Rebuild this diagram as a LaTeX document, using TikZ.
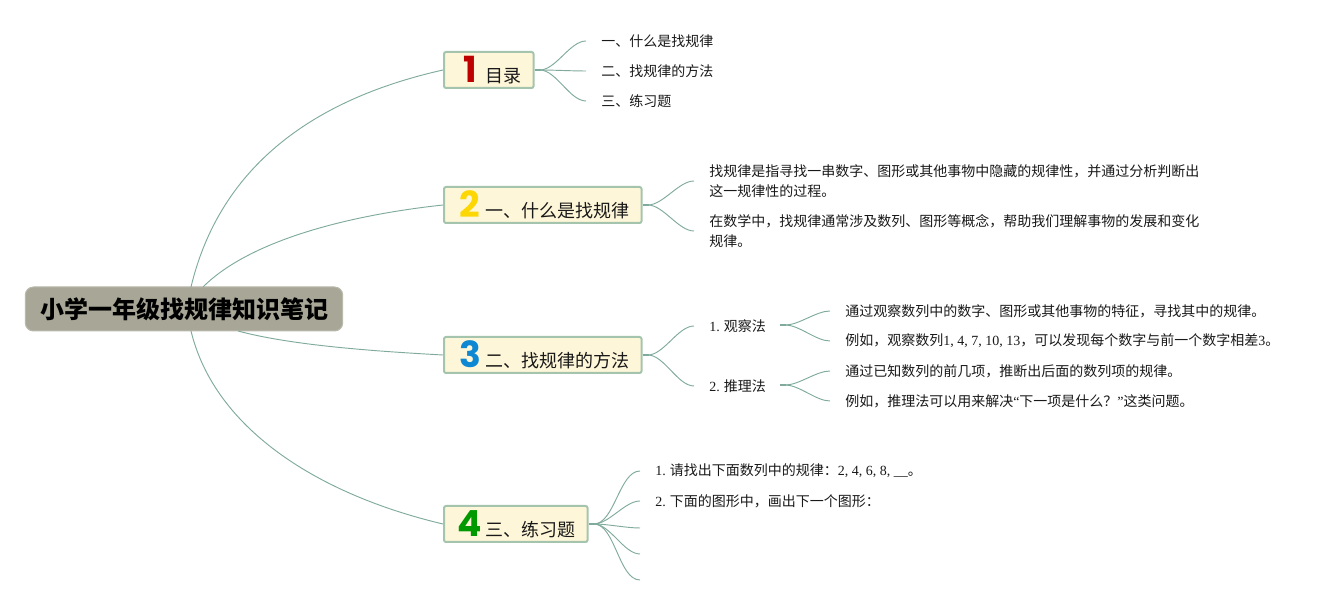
\documentclass[tikz,border=0pt]{standalone}
\usepackage{fontspec}
\usepackage{xcolor}
\setmainfont{Liberation Serif}
\newfontfamily\cjk{Noto Sans CJK SC}
\newfontfamily\numfont{Poppins}
\definecolor{linegreen}{HTML}{7FAA9C}
\definecolor{boxline}{HTML}{A5C4AE}
\definecolor{boxfill}{HTML}{FEF6D8}
\definecolor{rootfill}{HTML}{A8A797}
\newcommand{\lat}[1]{{\rmfamily #1}}
\newcommand{\numb}[2]{\makebox[20.25pt][c]{\numfont\fontsize{27}{27}\bfseries\color{#1}#2}\hspace{1.1pt}}
\tikzset{
	root box/.style={draw=rootfill!80!white,fill=rootfill,rounded corners=6pt,line width=.75pt,minimum width=238pt,minimum height=33pt,inner sep=0pt,font=\cjk\fontsize{18}{18}\selectfont\bfseries},
	branch box/.style={draw=boxline,fill=boxfill,rounded corners=1.5pt,line width=1.5pt,anchor=west,minimum height=27pt,inner xsep=9.4pt,inner ysep=0pt,font=\cjk\fontsize{13.5}{13.5}\selectfont,text=black!90},
	leaf/.style={anchor=west,inner xsep=11.25pt,inner ysep=0pt,align=left,font=\cjk\fontsize{10.5}{15}\selectfont,text=black!90},
	main link/.style={draw=linegreen,line width=.7pt},
	stem/.style={draw=linegreen,line width=1.5pt},
	twig/.style={draw=linegreen,line width=.7pt,out=0,in=180,looseness=.75}
}
\begin{document}
\begin{tikzpicture}[x=.75pt,y=-.75pt]
	\useasboundingbox (0,0) rectangle (1339,605);
	% root
	\node[root box] (root) at (184,309) {小学一年级找规律知识笔记};
	\coordinate (r1) at (191,287);
	\coordinate (r2) at (203,287);
	\coordinate (r3) at (238,331);
	\coordinate (r4) at (191,331);
	% branches
	\node[branch box] (b1) at (443,70) {\numb{red!75!black}{1}目录};
	\node[branch box] (b2) at (443,205) {\numb{yellow!75!orange}{2}一、什么是找规律};
	\node[branch box] (b3) at (443,355) {\numb{cyan!70!blue}{3}二、找规律的方法};
	\node[branch box] (b4) at (443,524) {\numb{green!60!black}{4}三、练习题};
	% leaves of 1
	\node[leaf] (a1) at (586,41) {一、什么是找规律};
	\node[leaf] (a2) at (586,71) {二、找规律的方法};
	\node[leaf] (a3) at (586,101) {三、练习题};
	% leaves of 2
	\node[leaf] (c1) at (694,181) {找规律是指寻找一串数字、图形或其他事物中隐藏的规律性，并通过分析判断出\\这一规律性的过程。};
	\node[leaf] (c2) at (694,231) {在数学中，找规律通常涉及数列、图形等概念，帮助我们理解事物的发展和变化\\规律。};
	% leaves of 3
	\node[leaf] (d1) at (694,326) {\lat{1.} 观察法};
	\node[leaf] (d2) at (694,386) {\lat{2.} 推理法};
	\coordinate (d1e) at (780,325);
	\coordinate (d2e) at (780,385);
	\node[leaf] (e1) at (830,311) {通过观察数列中的数字、图形或其他事物的特征，寻找其中的规律。};
	\node[leaf] (e2) at (830,341) {例如，观察数列\lat{1, 4, 7, 10, 13}，可以发现每个数字与前一个数字相差\lat{3}。};
	\node[leaf] (e3) at (830,371) {通过已知数列的前几项，推断出后面的数列项的规律。};
	\node[leaf] (e4) at (830,401) {例如，推理法可以用来解决\lat{“}下一项是什么？\lat{”}这类问题。};
	% leaves of 4
	\node[leaf] (f1) at (640,471) {\lat{1.} 请找出下面数列中的规律：\lat{2, 4, 6, 8, \_\_}。};
	\node[leaf] (f2) at (640,501) {\lat{2.} 下面的图形中，画出下一个图形：};
	\coordinate (f3) at (640,528);
	\coordinate (f4) at (640,554);
	\coordinate (f5) at (640,580);
	% links
	\draw[main link] (r1) .. controls (225,145) and (345,92) .. (b1.west);
	\draw[main link] (r2) .. controls (250,240) and (350,215) .. (b2.west);
	\draw[main link] (r3) .. controls (290,345) and (370,351) .. (b3.west);
	\draw[main link] (r4) .. controls (215,430) and (320,495) .. (b4.west);
	\foreach \s/\t in {b1/a1,b1/a2,b1/a3,b2/c1,b2/c2,b3/d1,b3/d2,b4/f1,b4/f2}
		\draw[twig] ([xshift=4pt]\s.east) to (\t.west);
	\foreach \t in {f3,f4,f5}
		\draw[twig] ([xshift=4pt]b4.east) to (\t);
	\foreach \s/\t in {d1e/e1,d1e/e2,d2e/e3,d2e/e4}
		\draw[twig] ([xshift=4pt]\s) to (\t.west);
	\foreach \s in {b1,b2,b3,b4}
		\draw[stem] (\s.east) -- ++(6,0);
	\foreach \s in {d1e,d2e}
		\draw[stem] (\s) -- ++(6,0);
\end{tikzpicture}
\end{document}
